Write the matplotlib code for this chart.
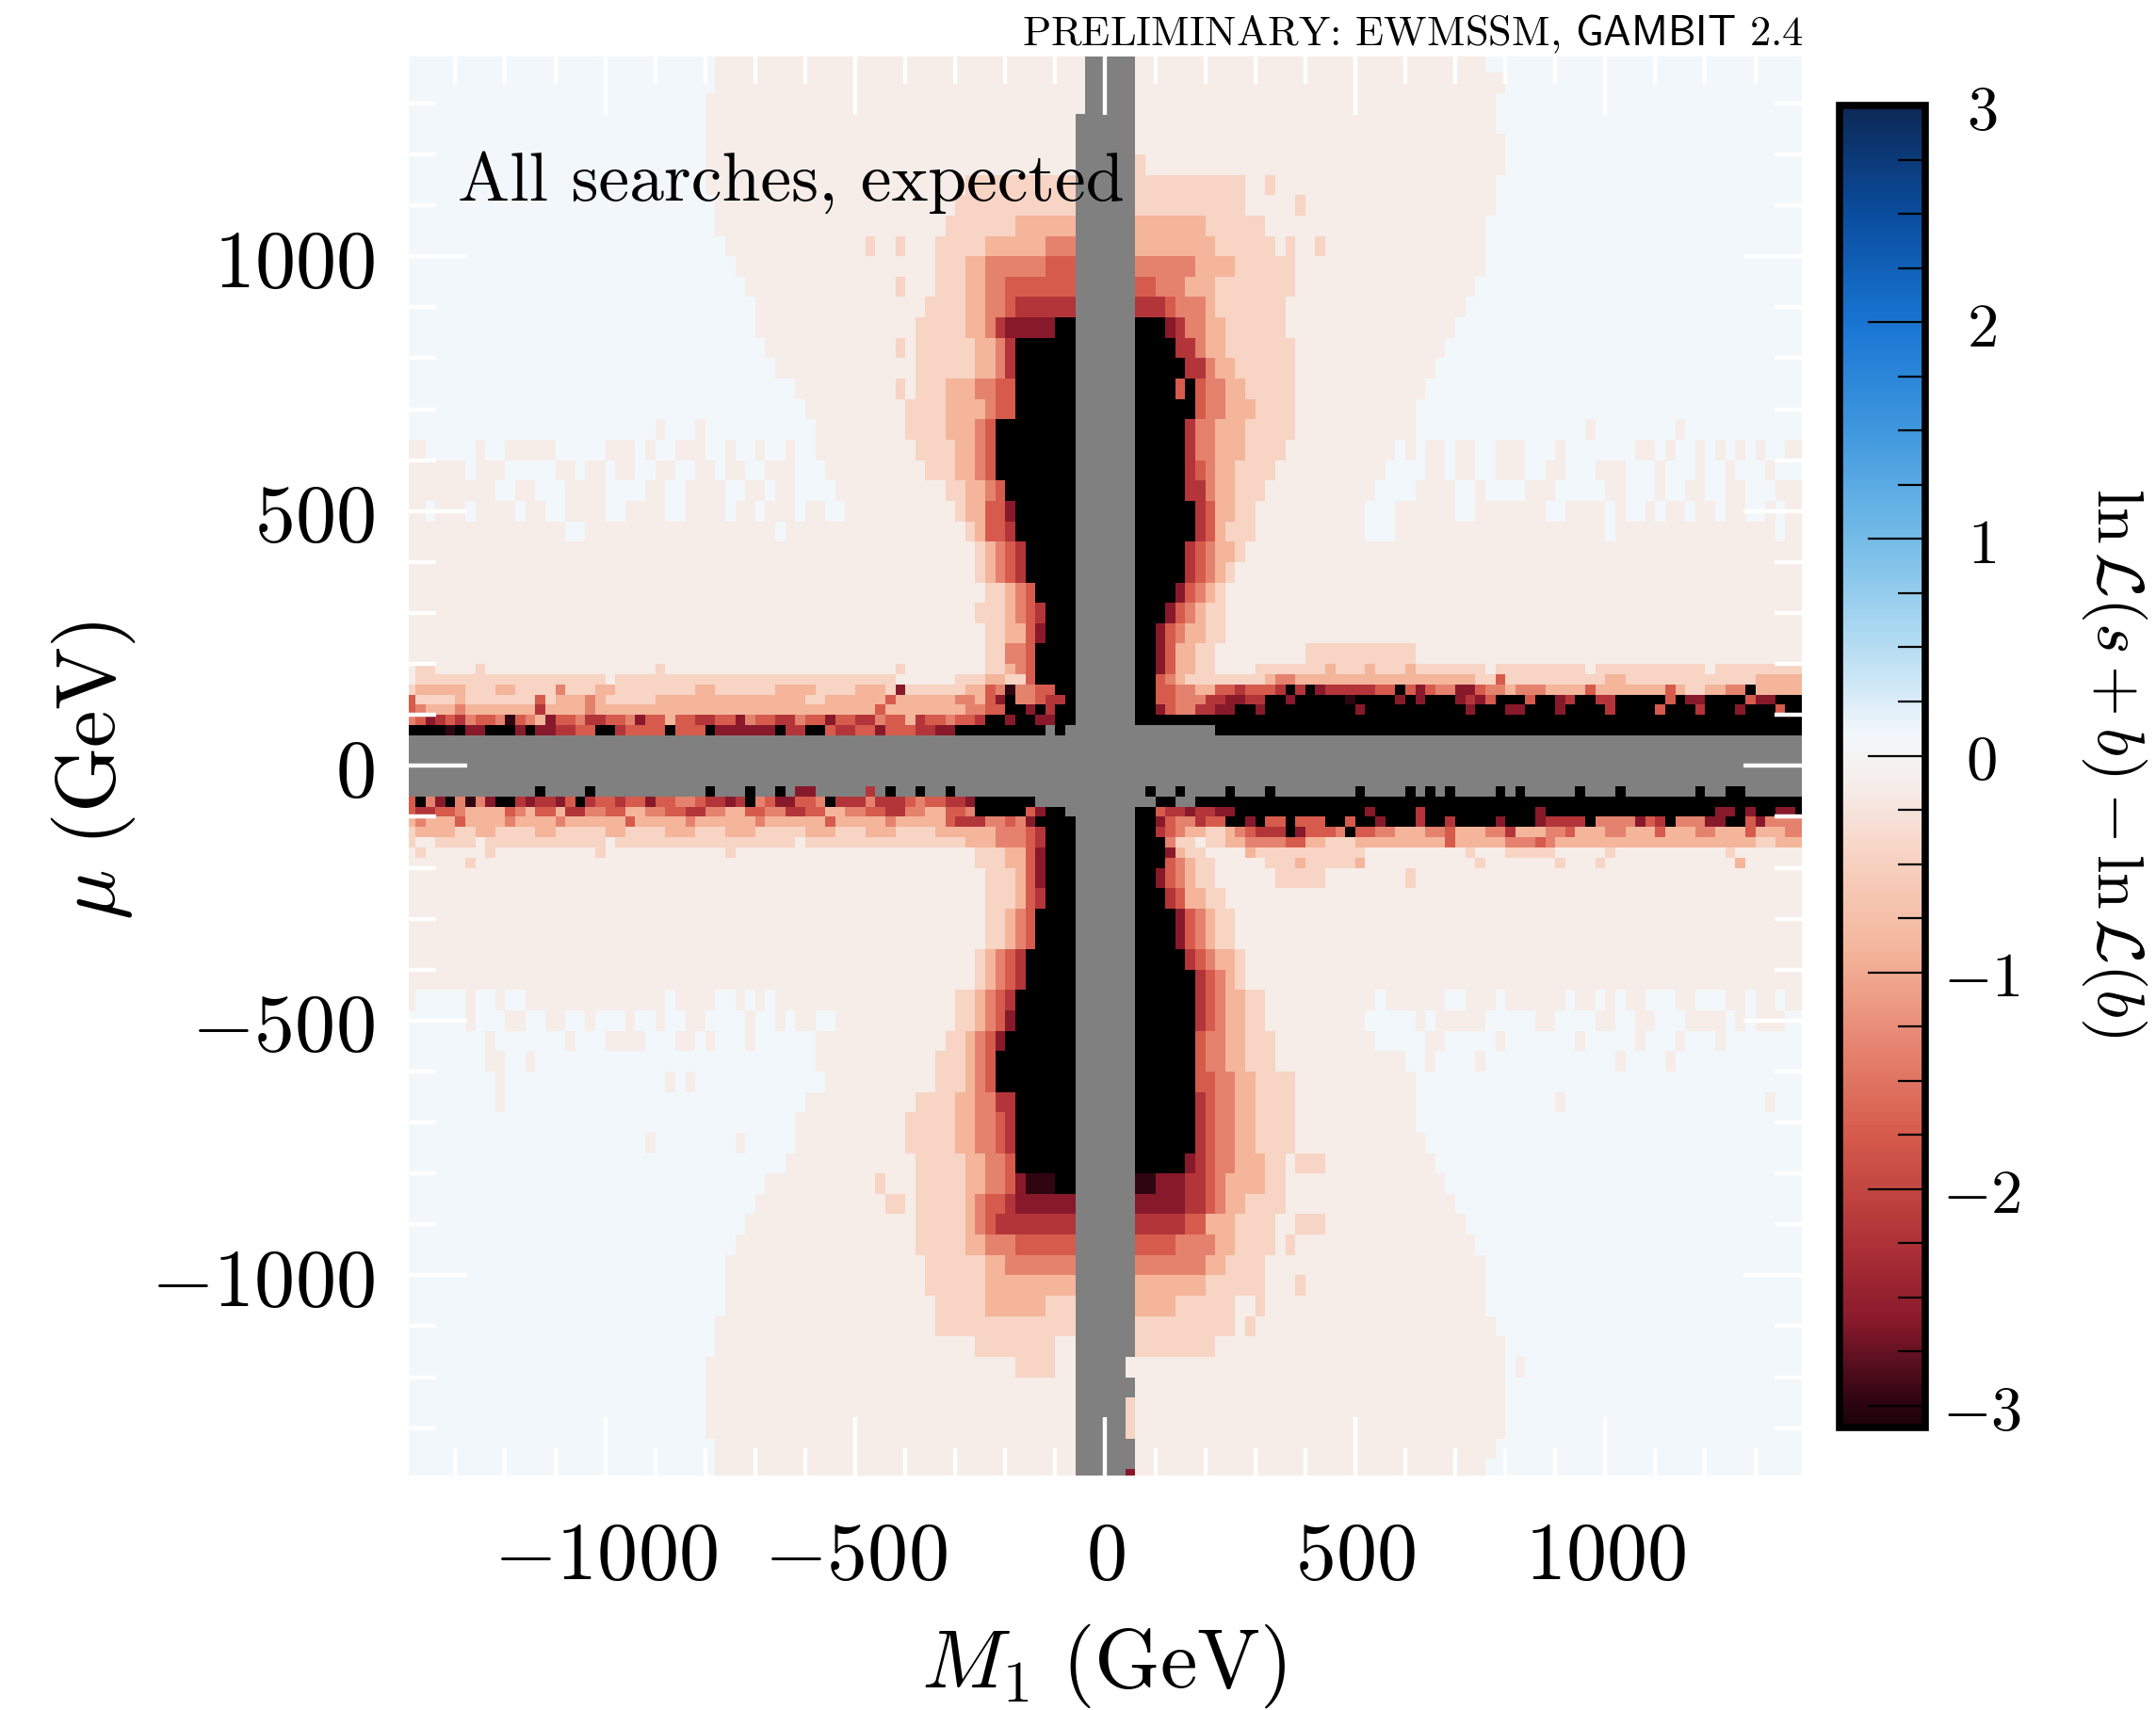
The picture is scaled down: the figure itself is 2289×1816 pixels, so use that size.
import numpy as np
import matplotlib.pyplot as plt
from matplotlib.colors import LinearSegmentedColormap, Normalize
from matplotlib.ticker import MultipleLocator

plt.rcParams['mathtext.fontset'] = 'cm'
plt.rcParams['font.family'] = 'DejaVu Serif'

# scan grid: 20 GeV bins in M1, row edges in mu from top to bottom
m1_edges = np.arange(-1400, 1401, 20)
mu_edges = [1400, 1360, 1320, 1280, 1240, 1200, 1160, 1120, 1080, 1040,
            1000, 960, 920, 880, 840, 800, 760, 720, 680, 640,
            600, 560, 520, 480, 440, 400, 360, 320, 280, 240,
            200, 180, 160, 140, 120, 100, 80, 60, -40, -60,
            -80, -100, -120, -140, -160, -180, -200, -240, -280, -320,
            -360, -400, -440, -480, -520, -560, -600, -640, -680, -720,
            -760, -800, -840, -880, -920, -960, -1000, -1040, -1080, -1120,
            -1160, -1200, -1240, -1280, -1320, -1360, -1380, -1400]

# letters used in the rows and the ln L(s+b) - ln L(b) value of each
level_codes = ['w', 'e', 'p', 'q', 's', 'r', 'd', 'm', 'n', 'k', 'g']
level_values = [0.1, -0.15, -0.45, -0.9, -1.35, -1.75, -2.2, -2.6, -2.98, -3.6, np.nan]

# one string per mu row: runs "<letter><right M1 edge>" starting at M1 = -1400
rows = [
    "w-780 e-40 g60 e760 w1400",
    "w-780 e-40 g60 e800 w1400",
    "w-800 e-40 g60 e780 w1400",
    "w-800 e-60 g60 e780 w1400",
    "w-800 e-60 g60 e800 w1400",
    "w-800 e-60 g60 p80 e800 w1400",
    "w-800 e-280 p-60 g60 p280 e320 p340 e780 w1400",
    "w-780 e-300 p-60 g60 p280 e380 p400 e780 w1400",
    "w-780 e-320 p-180 q-60 g60 q200 p320 e760 w1400",
    "w-760 e-480 p-460 e-420 p-400 e-340 p-240 q-120 s-60 g60 q220 p340 e360 p380 e420 p440 e760 w1400",
    "w-740 e-340 p-280 q-240 s-120 r-60 g60 s180 q260 p380 e760 w1400",
    "w-720 e-420 p-400 e-340 p-280 q-240 s-200 r-60 g60 r100 s160 q220 p380 e740 w1400",
    "w-700 e-360 p-280 q-240 s-200 r-180 d-60 g60 d120 r140 s200 q220 p360 e720 w1400",
    "w-700 e-380 p-280 q-240 s-220 d-200 m-100 k-60 g60 k120 m140 d160 s200 q240 p360 e700 w1400",
    "w-680 e-420 p-400 e-380 p-260 q-220 s-200 d-180 k-60 g60 k140 d180 s200 q240 p380 e680 w1400",
    "w-660 e-380 p-260 q-220 s-200 d-180 k-60 g60 k160 d200 s220 q260 p380 e660 w1400",
    "w-620 e-420 p-400 e-380 p-320 q-260 s-220 r-180 k-60 g60 k140 r160 k180 r200 s240 q280 p380 e640 w1400",
    "w-600 e-400 p-320 q-240 s-220 r-180 k-60 g60 k180 r200 s240 q300 p380 e620 w1400",
    "w-900 e-880 w-820 e-800 w-580 e-400 p-320 q-260 s-240 r-220 k-60 g60 k160 d180 s220 q280 p380 e620 w960 e980 w1140 e1160 w1400",
    "e-1360 w-1260 e-1240 w-1200 e-1100 w-1000 e-940 w-920 e-900 w-860 e-800 w-760 e-740 w-700 e-680 w-640 e-620 w-580 "
    "e-380 p-300 q-260 s-240 r-220 k-60 g60 k160 d180 s220 q280 p360 e580 w600 e620 w640 e680 w700 e740 w780 e840 w900 "
    "e920 w1060 e1100 w1120 e1140 w1180 e1200 w1220 e1240 w1260 e1280 w1300 e1320 w1360 e1400",
    "e-1280 w-1260 e-1200 w-1100 e-1060 w-1040 e-1000 w-980 e-940 w-900 e-860 w-820 e-780 w-760 e-720 w-680 e-620 w-560 "
    "e-360 p-300 q-260 s-240 r-220 k-60 g60 k160 d180 r200 s220 q260 p340 e560 w640 e680 w700 e740 w780 e840 w880 e920 "
    "w980 e1040 w1100 e1120 w1180 e1200 w1240 e1260 w1320 e1340 w1400",
    "e-1220 w-1180 e-1140 w-1080 e-1000 w-920 e-880 w-840 e-760 w-720 e-680 w-660 e-620 w-540 e-320 p-280 q-240 s-220 "
    "r-200 k-60 g60 k160 d200 s220 q260 p320 e540 w620 e700 w740 e760 w840 e900 w1000 e1040 w1100 e1120 w1160 e1200 "
    "w1240 e1280 w1340 e1400",
    "e-1360 w-1340 e-1280 w-1260 e-1180 w-1160 e-1120 w-1080 e-1000 w-960 e-880 w-840 e-760 w-740 e-700 w-680 e-620 "
    "w-600 e-560 w-520 e-300 p-280 q-240 r-200 m-180 k-60 g60 k180 d200 r220 q260 p300 e520 w580 e700 w740 e880 w920 "
    "e1000 w1020 e1040 w1080 e1100 w1120 e1160 w1180 e1220 w1240 e1280 w1320 e1340 w1360 e1400",
    "e-1080 w-1040 e-660 w-640 e-280 p-260 q-240 r-200 d-180 k-60 g60 k180 d200 r220 q240 p300 e520 w580 e1000 w1020 e1340 w1360 e1400",
    "e-260 p-240 q-220 s-200 r-180 d-160 k-60 g60 k160 d180 r200 s220 q260 p280 e1400",
    "e-260 p-240 q-220 s-200 r-180 d-160 k-60 g60 k160 d180 r200 s220 q240 p260 e1400",
    "e-240 p-200 q-180 s-160 r-140 k-60 g60 k140 m160 r180 s200 q220 p240 e1400",
    "e-260 p-200 q-180 s-160 r-140 d-120 k-60 g60 k120 m140 r160 s180 q200 p240 e1400",
    "e-240 p-200 q-160 r-140 m-120 k-60 g60 k100 m120 r140 s160 q200 p240 e1400",
    "e-240 p-200 s-160 r-140 k-60 g60 k100 m120 r140 q180 p220 e400 p620 e1400",
    "e-1380 p-1340 e-1260 p-1240 e-900 p-880 e-420 p-400 e-240 p-200 q-180 s-160 r-140 k-60 g60 k100 m120 r140 q180 "
    "p220 e300 p440 q460 p520 q540 p600 q620 p760 e780 p960 e980 p1200 e1220 p1400",
    "e-1380 p-1000 e-980 p-420 e-300 p-240 q-200 p-160 r-140 k-60 g60 k100 r120 s140 q160 p320 q340 s380 q740 p780 "
    "r800 p1000 q1040 p1300 q1400",
    "p-1380 q-1280 p-1220 q-1180 p-1100 s-1080 p-1020 q-980 p-820 q-780 p-660 q-580 p-500 q-440 p-420 m-400 p-280 "
    "q-240 r-220 s-200 n-180 s-140 r-100 k-60 g60 k100 r140 s180 q220 r260 d280 r340 d360 k380 d400 k420 m440 d540 "
    "r580 k600 r620 m640 r660 s700 m740 r760 s800 q820 s880 q960 r980 q1120 r1140 q1160 p1200 q1240 s1280 k1300 q1400",
    "r-1380 p-1300 q-1280 p-1140 r-1120 p-1100 q-1040 s-1020 q-1000 p-900 q-600 p-560 q-440 r-420 q-300 s-260 q-240 "
    "r-220 m-200 k-180 s-140 r-120 d-80 k-60 g60 k100 r140 s200 d240 m280 d320 k360 m380 k480 n500 k580 m600 k620 "
    "m640 k700 m720 d740 m760 r780 k840 r860 k900 m920 d940 k980 d1020 k1120 r1140 k1160 m1200 k1280 r1300 m1340 k1400",
    "r-1380 s-1360 q-1300 s-1280 q-1140 d-1120 q-1040 s-1020 q-460 r-440 q-280 s-240 r-200 k-160 m-140 k-120 d-100 "
    "k-60 g60 k100 m120 r140 s180 d220 m260 k300 m320 k500 m520 k720 m740 k800 m840 k900 m920 k1000 d1020 k1100 "
    "r1120 k1180 d1200 k1260 m1280 k1340 r1360 k1400",
    "s-1380 r-1360 m-1340 d-1320 r-1300 d-1280 s-1260 r-1220 s-1200 n-1180 r-1160 s-1140 q-1120 m-1100 r-1060 s-1040 "
    "d-1000 r-960 s-940 m-920 r-880 q-860 r-820 d-780 r-740 m-720 s-700 r-660 d-620 s-600 r-560 m-540 r-500 d-460 "
    "s-440 r-400 q-380 d-360 r-320 s-300 r-260 d-240 k-200 m-180 k-140 m-100 k-60 g60 k1400",
    "k-1320 n-1300 k-1280 m-1240 k-1180 m-1160 k-1140 m-1100 d-1060 r-1020 k-980 d-960 r-880 k-860 r-800 k-780 m-660 "
    "k-640 d-600 k-560 r-540 d-500 r-460 m-440 r-380 d-340 m-300 k-120 g-100 k-80 g220 k1400",
    "g1400",
    "g-1140 k-1120 g-1040 k-1020 g-800 k-780 g-720 k-700 g-660 k-640 g-620 m-580 g-480 d-460 g-440 k-420 g-380 k-360 "
    "g-320 k-300 g80 k100 g140 k160 g240 k260 g320 k340 g500 k520 g600 k620 g640 k660 g680 k700 g780 k800 g820 k840 "
    "g940 k960 g1020 k1040 g1180 k1200 g1240 k1280 g1400",
    "r-1380 k-1360 s-1340 m-1320 k-1300 s-1280 n-1260 s-1240 m-1220 k-1180 d-1160 m-1140 d-1100 m-1080 r-1060 k-1040 "
    "d-1020 r-980 d-960 r-920 m-900 r-860 s-820 r-800 d-760 m-740 d-720 k-700 s-680 r-660 m-620 r-580 s-560 k-540 "
    "d-480 s-460 d-400 r-380 s-360 r-320 d-280 m-260 k-140 g100 k140 g180 k1400",
    "r-1380 d-1340 r-1300 s-1280 q-1200 r-1180 s-1160 q-1140 r-1100 q-1080 d-1040 s-1000 r-960 q-920 s-880 r-840 d-800 "
    "s-760 q-720 r-680 s-640 d-600 r-560 q-520 s-480 r-440 d-400 s-360 q-320 r-280 s-260 k-160 r-140 m-120 k-80 g60 "
    "k100 r120 d160 m180 d220 m260 k520 m540 k620 d640 k860 m880 k1220 m1260 k1280 m1300 k1340 m1380 k1400",
    "q-1380 s-1360 q-1300 r-1280 q-1200 s-1180 q-1100 s-1080 q-960 r-940 q-840 s-820 q-700 s-680 q-560 r-540 q-440 "
    "s-420 q-320 r-300 d-240 s-200 r-180 s-160 m-140 k-60 g60 k100 m120 r140 s180 d200 r240 k280 m300 k320 r360 k380 "
    "r440 k480 r500 k540 m560 k620 d640 k680 d700 k780 m800 k860 m880 d960 k980 s1060 m1080 r1100 d1120 k1140 s1200 "
    "m1240 k1280 r1300 m1320 s1400",
    "p-1380 q-1300 p-1260 q-1220 p-1140 q-1100 p-1000 q-960 p-880 q-820 p-760 q-700 p-600 q-540 p-480 q-420 p-340 "
    "q-220 s-160 r-140 d-120 k-60 g60 k100 d120 r140 s160 q200 p240 q260 s280 r300 d360 k380 m400 r460 s480 k500 r540 "
    "s580 q640 s680 r700 q760 s800 d820 q880 s920 r940 q1000 s1040 q1100 r1120 q1180 s1220 q1280 r1300 q1360 s1400",
    "p-1380 e-1340 p-1260 e-1240 p-1000 e-980 p-620 e-600 p-280 q-220 s-160 r-140 d-120 k-60 g60 k120 s140 p180 e200 "
    "p240 q280 s360 r400 q440 p500 q680 r700 q800 s860 r880 s900 q1300 p1340 q1400",
    "e-1380 p-1360 e-1240 p-1220 e-1020 p-1000 e-760 p-740 e-260 p-200 q-160 r-140 m-120 k-60 g60 k120 m140 q160 p200 "
    "e280 q300 p520 e720 p740 e800 p900 e1000 p1020 e1240 p1260 e1400",
    "e-1280 p-1260 e-260 p-200 q-160 r-140 m-120 k-60 g60 k120 r140 s160 q180 p220 e320 p380 q400 p500 q520 e740 p760 "
    "e900 p920 e980 p1000 e1260 q1280 e1400",
    "e-240 p-180 q-160 r-140 m-120 k-60 g60 k100 m120 r140 s160 q180 p220 e340 p440 e600 p620 e1400",
    "e-240 p-180 q-160 r-140 d-120 k-60 g60 k120 d140 r160 q200 p240 e1400",
    "e-240 p-200 q-180 s-160 r-140 k-60 g60 k140 m160 r180 s200 q220 p260 e1400",
    "e-240 p-200 q-180 s-160 r-140 k-60 g60 k140 m160 r180 s200 q220 p260 e1400",
    "e-260 p-240 q-220 s-200 r-180 d-160 k-60 g60 k160 d180 r200 s220 q260 p280 e1400",
    "e-260 p-240 q-220 s-200 r-180 d-160 k-60 g60 k180 d200 r220 s240 q260 p280 e1400",
    "e-1380 w-1280 e-1260 w-1220 e-1200 w-1160 e-880 w-860 e-780 w-740 e-720 w-700 e-680 w-660 e-300 p-260 q-240 "
    "s-220 r-200 d-180 k-60 g60 k180 d200 r220 s240 q280 p320 e540 w560 e680 w720 e780 w800 e920 w940 e980 w1000 "
    "e1020 w1040 e1080 w1140 e1180 w1240 e1280 w1300 e1340 w1360 e1400",
    "w-1280 e-1260 w-1200 e-1160 w-1120 e-1080 w-1040 e-1020 w-960 e-940 w-900 e-880 w-840 e-800 w-720 e-700 w-660 "
    "e-640 w-620 e-580 w-540 e-300 p-260 q-240 s-220 r-200 m-180 k-60 g60 k180 d200 r220 s240 q280 p320 e520 w620 "
    "e640 w660 e760 w860 e900 w980 e1020 w1060 e1100 w1160 e1240 w1260 e1280 w1300 e1360 w1400",
    "w-1240 e-1220 w-1080 e-1060 w-1000 e-920 w-860 e-820 w-800 e-780 w-720 e-700 w-580 e-320 p-280 q-260 s-240 "
    "r-220 m-200 k-60 g60 k180 r200 s240 q280 p340 e540 w640 e680 w780 e800 w940 e960 w1060 e1080 w1140 e1160 w1220 "
    "e1240 w1400",
    "w-1240 e-1200 w-1160 e-1140 w-580 e-340 p-280 q-260 s-240 r-220 k-60 g60 k180 r200 s240 q280 p340 e600 w640 "
    "e660 w740 e760 w1020 e1040 w1120 e1140 w1400",
    "w-1220 e-1200 w-880 e-860 w-840 e-820 w-560 e-340 p-280 q-260 s-240 r-220 k-60 g60 k180 r220 s260 q300 p380 e620 w1400",
    "w-1220 e-1200 w-600 e-380 p-300 q-260 s-220 d-180 k-60 g60 k180 d200 r220 s260 q300 p380 e620 w900 e920 w1320 e1340 w1400",
    "w-620 e-400 p-300 q-260 s-220 r-200 d-180 k-60 g60 k180 d200 r220 s260 q300 p380 e620 w1400",
    "w-920 e-900 w-740 e-720 w-620 e-400 p-300 q-260 s-220 r-200 d-180 k-60 g60 k180 d200 r220 s260 q300 p380 e640 w1400",
    "w-640 e-380 p-280 q-240 s-200 r-180 k-60 g60 k160 m180 d200 r220 s260 q320 p360 e380 p440 e660 w1400",
    "w-680 e-460 p-440 e-380 p-280 q-240 s-200 r-180 m-160 n-100 k-60 g60 n100 m160 d200 r220 s240 q320 p360 e680 w1400",
    "w-700 e-440 p-400 e-380 p-280 q-260 s-240 r-200 d-180 m-60 g60 m160 d200 r220 s240 q280 p360 e700 w1400",
    "w-720 e-380 p-280 q-260 s-240 r-220 d-60 g60 d160 r200 q260 p340 e380 p440 e720 w1400",
    "w-740 e-380 p-280 q-240 s-180 r-60 g60 r140 s220 q260 p340 e360 p380 e740 w1400",
    "w-760 e-360 p-240 q-200 s-60 g60 s200 q240 p320 e760 w1400",
    "w-760 e-360 p-240 q-60 g60 q200 p320 e380 p400 e760 w1400",
    "w-760 e-340 p-240 q-120 p-60 g60 q140 p260 e300 p320 e760 w1400",
    "w-780 e-340 p-60 g60 p260 e280 p300 e780 w1400",
    "w-780 e-260 p-100 e-60 g60 p220 e800 w1400",
    "w-800 e-180 p-100 e-60 g40 e800 w820 e840 w1400",
    "w-800 e-60 g60 e800 w1400",
    "w-800 e-60 g40 p60 e800 w1400",
    "w-800 e-60 g40 p60 e800 w1400",
    "w-780 e-60 g60 e780 w1400",
    "w-780 e-60 g60 e760 w1400",
    "w-780 e-60 g40 m60 e760 w1400",
]

major_ticks = [-1000, -500, 0, 500, 1000]
cbar_ticks = [-3, -2, -1, 0, 1, 2, 3]

# diverging red-white-blue scale, dark at both ends
vmin, vmax = -3.1, 3.0
cmap_stops = [-3.1, -3.0, -2.6, -2.2, -1.75, -1.35, -0.9, -0.45, -0.15, 0.0, 0.1,
              0.5, 1.0, 1.5, 2.0, 2.5, 3.0]
cmap_colors = ['#1c0307', '#2a0410', '#8b1a2c', '#b33539', '#d65b4c', '#e5836f',
               '#f4b59b', '#f7d4c4', '#f6ece8', '#f4f4f4', '#f2f7fb',
               '#b5ddf2', '#74bce8', '#4098de', '#1875d2', '#0a4d9e', '#0c2855']

# fill the grid from the run strings
value_of = dict(zip(level_codes, level_values))
grid = np.full((len(rows), len(m1_edges) - 1), np.nan)
for i, row in enumerate(rows):
    lo = m1_edges[0]
    for token in row.split():
        code, hi = token[0], int(token[1:])
        if hi <= lo:
            continue
        a = np.searchsorted(m1_edges, lo)
        b = np.searchsorted(m1_edges, hi)
        grid[i, a:b] = value_of[code]
        lo = hi

cmap = LinearSegmentedColormap.from_list(
    'lnl', [((v - vmin) / (vmax - vmin), c) for v, c in zip(cmap_stops, cmap_colors)], N=512)
cmap.set_bad('#808080')
cmap.set_under('#000000')
norm = Normalize(vmin=vmin, vmax=vmax)

fig = plt.figure(figsize=(22.89, 18.16), dpi=100)
ax = fig.add_axes([0.1896, 0.1371, 0.6461, 0.8301])
mesh = ax.pcolormesh(m1_edges, mu_edges, np.ma.masked_invalid(grid), cmap=cmap, norm=norm)
ax.set_xlim(-1393, 1393)
ax.set_ylim(-1393, 1393)
for sp in ax.spines.values():
    sp.set_visible(False)

tick_labels = [f'${t}$' for t in major_ticks]
ax.set_xticks(major_ticks, labels=tick_labels)
ax.set_yticks(major_ticks, labels=tick_labels)
ax.xaxis.set_minor_locator(MultipleLocator(100))
ax.yaxis.set_minor_locator(MultipleLocator(100))
ax.tick_params(which='both', direction='in', color='white', top=True, right=True,
               labeltop=False, labelright=False, labelsize=62, width=3.2)
ax.tick_params(which='major', length=44.6)
ax.tick_params(which='minor', length=21)
ax.tick_params(axis='x', which='major', pad=32)
ax.tick_params(axis='y', which='major', pad=26)

ax.set_xlabel(r'$M_1\ (\mathrm{GeV})$', fontsize=64)
ax.set_ylabel(r'$\mu\ (\mathrm{GeV})$', fontsize=64)
ax.xaxis.set_label_coords(0.499, -0.1034)
ax.yaxis.set_label_coords(-0.195, 0.497)

ax.text(0.035, 0.8986, 'All searches, expected', transform=ax.transAxes,
        family='cmr10', fontsize=53, ha='left', va='baseline')
fig.text(0.8366, 0.9736, r'PRELIMINARY: EWMSSM, $\mathsf{GAMBIT}$ 2.4',
         family='cmr10', fontsize=32, ha='right', va='baseline')

cax = fig.add_axes([0.85321, 0.1652, 0.03976, 0.7731])
cb = fig.colorbar(mesh, cax=cax, ticks=cbar_ticks)
cb.outline.set_linewidth(5.5)
cb.ax.set_yticklabels([f'${t}$' for t in cbar_ticks])
cb.ax.yaxis.set_minor_locator(MultipleLocator(0.25))
cb.ax.tick_params(which='both', direction='in', color='black', right=True, left=False,
                  width=1.6, labelsize=48)
cb.ax.tick_params(which='major', length=44, pad=43)
cb.ax.tick_params(which='minor', length=21)
for lab in cb.ax.get_yticklabels():
    lab.set_horizontalalignment('center')
fig.text(0.9806, 0.554, r'$\ln\mathcal{L}(s+b)-\ln\mathcal{L}(b)$', rotation=270,
         fontsize=50, ha='center', va='center')

fig.savefig('out.png', dpi=100)
